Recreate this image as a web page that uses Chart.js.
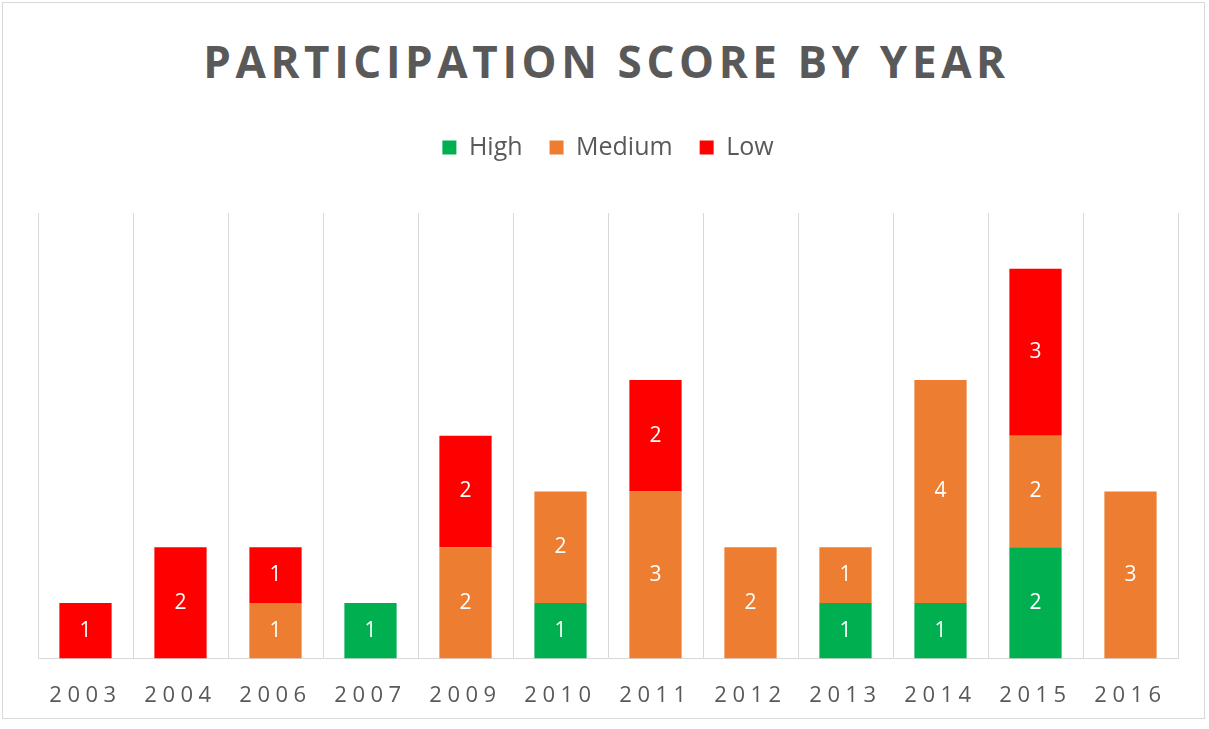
<!DOCTYPE html>
<html>
<head>
<meta charset="utf-8">
<title>Participation Score by Year</title>
<script src="https://cdn.jsdelivr.net/npm/chart.js@4.4.1/dist/chart.umd.min.js"></script>
<style>
  body { margin: 0; background: #fff; overflow: hidden; }
  #frame { position: absolute; left: 2px; top: 2px; width: 1201px; height: 715px; border: 1px solid #d9d9d9; }
  #title { position: absolute; left: 0; top: 31px; width: 1209px; margin: 0; padding-left: 4px; box-sizing: border-box;
           text-align: center; font: bold 44px/normal 'Open Sans', sans-serif; letter-spacing: 4.6px; color: #595959; }
  #wrap { position: absolute; left: 0; top: 0; width: 1209px; height: 733px; }
</style>
</head>
<body>
<div id="frame"></div>
<h1 id="title">PARTICIPATION SCORE BY YEAR</h1>
<div id="wrap"><canvas id="scoreChart"></canvas></div>
<script>
// Scores per year, split by participation level
const years = ['2003', '2004', '2006', '2007', '2009', '2010', '2011', '2012', '2013', '2014', '2015', '2016'];
const high = [0, 0, 0, 1, 0, 1, 0, 0, 1, 1, 2, 0];
const medium = [0, 0, 1, 0, 2, 2, 3, 2, 1, 4, 2, 3];
const low = [1, 2, 1, 0, 2, 0, 2, 0, 0, 0, 3, 0];

// White value in the middle of each non-empty segment; the x tick labels
// are drawn after datasets (ticks.z = 1) so they get wider letter spacing.
const segmentLabels = {
    id: 'segmentLabels',
    beforeInit(chart) {
        const fit = chart.legend.fit;
        chart.legend.fit = function () {
            fit.call(this);
            this.height += 43;
        };
    },
    beforeDraw(chart) {
        chart.ctx.letterSpacing = '0px';
    },
    afterDatasetsDraw(chart) {
        const ctx = chart.ctx;
        ctx.save();
        ctx.font = '21px "Open Sans"';
        ctx.fillStyle = '#ffffff';
        ctx.textAlign = 'center';
        ctx.textBaseline = 'middle';
        chart.data.datasets.forEach((ds, i) => {
            chart.getDatasetMeta(i).data.forEach((bar, j) => {
                const v = ds.data[j];
                if (!v) return;
                const p = bar.getProps(['x', 'y', 'base'], true);
                ctx.fillText(v, p.x, (p.y + p.base) / 2);
            });
        });
        ctx.restore();
        ctx.letterSpacing = '5.5px';
    }
};

const ctx = document.getElementById('scoreChart').getContext('2d');
new Chart(ctx, {
    type: 'bar',
    data: {
        labels: years,
        datasets: [
            { label: 'High', data: high, backgroundColor: '#00b050' },
            { label: 'Medium', data: medium, backgroundColor: '#ed7d31' },
            { label: 'Low', data: low, backgroundColor: '#ff0000' }
        ]
    },
    options: {
        responsive: true,
        maintainAspectRatio: false,
        animation: false,
        categoryPercentage: 0.55,
        barPercentage: 1,
        layout: { padding: { top: 108, left: 38, right: 31, bottom: 0 } },
        scales: {
            x: {
                stacked: true,
                grid: { color: '#d9d9d9', drawTicks: false },
                border: { color: '#d9d9d9' },
                ticks: { color: '#595959', font: { family: 'Open Sans', size: 22 }, padding: 24, z: 1 }
            },
            y: { stacked: true, display: false, min: 0, max: 8 }
        },
        plugins: {
            legend: {
                position: 'top',
                labels: {
                    color: '#595959',
                    font: { family: 'Open Sans', size: 25 },
                    boxWidth: 14,
                    boxHeight: 14,
                    padding: 27
                }
            },
            tooltip: { enabled: false }
        }
    },
    plugins: [segmentLabels]
});
</script>
</body>
</html>
